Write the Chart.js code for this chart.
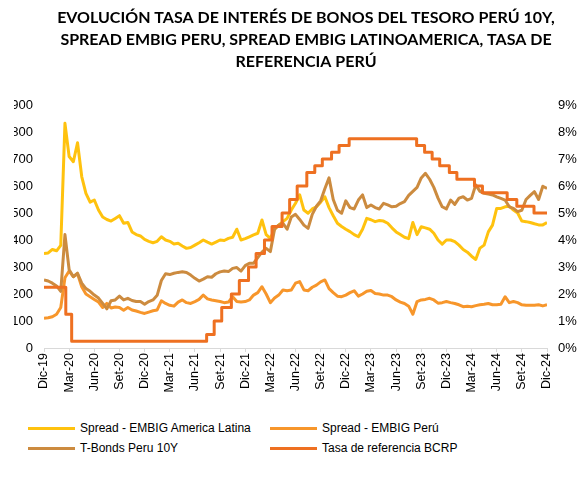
<!DOCTYPE html>
<html>
<head>
<meta charset="utf-8">
<script src="https://cdn.jsdelivr.net/npm/chart.js@4"></script>
<style>
  body { margin: 0; background: #fff; }
  #wrap { position: relative; width: 582px; height: 491px; overflow: hidden; }
  #chart { position: absolute; left: 0; top: 0; }
  #legend { position: absolute; left: 0; top: 419px; width: 582px; font: 12px "Liberation Sans", Arial, sans-serif; color: #000; }
  .item { position: absolute; height: 18px; line-height: 18px; white-space: nowrap; }
  .item span.sw { position: absolute; left: 0; top: 8px; width: 47px; height: 3px; }
  .item span.tx { position: absolute; left: 52px; top: 0; }
</style>
</head>
<body>
<div id="wrap">
  <canvas id="chart" width="612" height="410"></canvas>
  <div id="legend"></div>
</div>
<script>
// ejes
const tickLabels = ['Dic-19', 'Mar-20', 'Jun-20', 'Set-20', 'Dic-20', 'Mar-21', 'Jun-21', 'Set-21', 'Dic-21',
    'Mar-22', 'Jun-22', 'Set-22', 'Dic-22', 'Mar-23', 'Jun-23', 'Set-23', 'Dic-23', 'Mar-24', 'Jun-24', 'Set-24', 'Dic-24'];

// meses desde dic-19, cada quincena
const months = [
    0, 0.5, 1, 1.5, 2, 2.5, 3, 3.5, 4, 4.5, 5, 5.5, 6, 6.5, 7, 7.5, 8, 8.5, 9, 9.5,
    10, 10.5, 11, 11.5, 12, 12.5, 13, 13.5, 14, 14.5, 15, 15.5, 16, 16.5, 17, 17.5, 18, 18.5, 19, 19.5,
    20, 20.5, 21, 21.5, 22, 22.5, 23, 23.5, 24, 24.5, 25, 25.5, 26, 26.5, 27, 27.5, 28, 28.5, 29, 29.5,
    30, 30.5, 31, 31.5, 32, 32.5, 33, 33.5, 34, 34.5, 35, 35.5, 36, 36.5, 37, 37.5, 38, 38.5, 39, 39.5,
    40, 40.5, 41, 41.5, 42, 42.5, 43, 43.5, 44, 44.5, 45, 45.5, 46, 46.5, 47, 47.5, 48, 48.5, 49, 49.5,
    50, 50.5, 51, 51.5, 52, 52.5, 53, 53.5, 54, 54.5, 55, 55.5, 56, 56.5, 57, 57.5, 58, 58.5, 59, 59.5,
    60
];

// Spread - EMBIG America Latina (pb)
const latam = [
    350, 352, 365, 360, 380, 832, 709, 690, 760, 635,
    573, 540, 548, 511, 485, 476, 470, 480, 490, 462,
    465, 430, 420, 415, 402, 395, 390, 395, 412, 400,
    395, 385, 388, 378, 369, 372, 381, 390, 400, 392,
    385, 392, 400, 398, 406, 410, 440, 400, 405, 412,
    419, 425, 474, 420, 406, 440, 455, 468, 480, 511,
    536, 567, 511, 499, 515, 523, 540, 560, 520, 490,
    462, 450, 440, 431, 420, 412, 440, 480, 475, 468,
    472, 470, 462, 445, 430, 420, 410, 405, 465, 420,
    449, 445, 440, 425, 400, 385, 400, 400, 394, 381,
    365, 355, 340, 328, 370, 381, 430, 455, 517, 517,
    523, 525, 511, 500, 470, 468, 465, 460, 456, 456,
    465
];

// Spread - EMBIG Perú (pb)
const peru = [
    110, 112, 116, 125, 150, 260, 285, 264, 275, 227,
    200, 190, 180, 170, 150, 165, 148, 152, 150, 140,
    150, 141, 137, 132, 128, 133, 138, 141, 175, 165,
    158, 155, 170, 178, 168, 165, 172, 180, 196, 182,
    178, 175, 172, 168, 170, 190, 172, 170, 172, 178,
    196, 205, 227, 200, 168, 185, 196, 215, 212, 215,
    240, 246, 215, 212, 225, 233, 245, 252, 220, 205,
    192, 190, 196, 205, 212, 192, 200, 210, 213, 202,
    200, 196, 196, 190, 178, 170, 165, 155, 125, 172,
    178, 180, 184, 178, 166, 168, 172, 168, 165, 160,
    153, 155, 153, 157, 160, 162, 165, 160, 160, 162,
    190, 168, 172, 168, 160, 158, 158, 158, 160, 156,
    160
];

// T-Bonds Peru 10Y (%)
const tbonds = [
    2.52, 2.48, 2.40, 2.30, 2.10, 4.20, 2.90, 2.64, 2.77, 2.40,
    2.20, 2.10, 1.96, 1.85, 1.65, 1.45, 1.75, 1.78, 1.92, 1.78,
    1.84, 1.76, 1.72, 1.72, 1.62, 1.72, 1.78, 1.95, 2.50, 2.75,
    2.72, 2.77, 2.80, 2.82, 2.80, 2.70, 2.58, 2.48, 2.55, 2.64,
    2.62, 2.75, 2.82, 2.85, 2.83, 2.95, 2.98, 2.85, 3.05, 3.14,
    3.14, 3.35, 3.55, 3.69, 3.57, 4.40, 4.55, 4.62, 4.40, 4.85,
    4.95, 4.76, 4.55, 4.43, 4.95, 5.25, 5.45, 5.90, 6.30, 5.50,
    5.10, 4.99, 5.45, 5.20, 5.15, 5.48, 5.67, 5.20, 5.30, 5.20,
    5.15, 5.36, 5.30, 5.23, 5.25, 5.35, 5.42, 5.65, 5.80, 5.95,
    6.30, 6.47, 6.25, 5.95, 5.55, 5.23, 5.15, 5.48, 5.32, 5.55,
    5.60, 5.48, 5.54, 6.04, 5.80, 5.73, 5.70, 5.67, 5.60, 5.54,
    5.48, 5.23, 5.17, 5.05, 5.10, 5.50, 5.65, 5.79, 5.50, 5.99,
    5.91
];

// Tasa de referencia BCRP (%), fechas de cambio
const rateMonths = [0, 2.6, 3.3, 19.4, 20.3, 21.2, 22.35, 23.3, 24.4, 25.3, 26.3, 27.2, 28.4, 29.3, 30.2,
    31.35, 32.3, 33.2, 34.3, 35.2, 36.4, 44.45, 45.4, 46.3, 47.2, 48.35, 49.25, 51.35, 52.3, 55.25, 56.4, 58.45, 60];
const rates = [2.25, 1.25, 0.25, 0.5, 1.0, 1.5, 2.0, 2.5, 3.0, 3.5, 4.0, 4.5, 5.0, 5.5, 6.0,
    6.5, 6.75, 7.0, 7.25, 7.5, 7.75, 7.5, 7.25, 7.0, 6.75, 6.5, 6.25, 6.0, 5.75, 5.5, 5.25, 5.0, 5.0];

const seriesNames = ['Spread - EMBIG America Latina', 'Spread - EMBIG Perú', 'T-Bonds Peru 10Y', 'Tasa de referencia BCRP'];
const colors = ['#FFC20E', '#F7962B', '#CC8B3F', '#EE7021'];

function pts(xs, ys) {
    return xs.map((x, i) => ({ x: x, y: ys[i] }));
}

// tapa el borde izquierdo recortado
const cropLeft = {
    id: 'cropLeft',
    afterDraw(c) {
        const ctx = c.ctx;
        ctx.save();
        ctx.fillStyle = '#fff';
        ctx.fillRect(0, 90, 14, 270);
        ctx.restore();
    }
};

const ctx = document.getElementById('chart').getContext('2d');
const chart = new Chart(ctx, {
    type: 'line',
    data: {
        datasets: [
            { label: seriesNames[0], data: pts(months, latam), yAxisID: 'y', borderColor: colors[0], order: 3 },
            { label: seriesNames[1], data: pts(months, peru), yAxisID: 'y', borderColor: colors[1], order: 2 },
            { label: seriesNames[2], data: pts(months, tbonds), yAxisID: 'y1', borderColor: colors[2], order: 1 },
            { label: seriesNames[3], data: pts(rateMonths, rates), yAxisID: 'y1', borderColor: colors[3], stepped: 'before', order: 0 }
        ]
    },
    options: {
        responsive: false,
        animation: false,
        events: [],
        layout: { padding: 0 },
        elements: {
            point: { radius: 0 },
            line: { borderWidth: 3, tension: 0, fill: false, borderJoinStyle: 'round' }
        },
        plugins: {
            legend: { display: false },
            tooltip: { enabled: false },
            title: {
                display: true,
                text: ['EVOLUCIÓN TASA DE INTERÉS DE BONOS DEL TESORO PERÚ 10Y,',
                       'SPREAD EMBIG PERU, SPREAD EMBIG LATINOAMERICA, TASA DE',
                       'REFERENCIA PERÚ'],
                color: '#000',
                font: { family: 'Lato', size: 16, weight: 'bold', lineHeight: 22 / 16 },
                padding: { top: 7, bottom: 32 }
            }
        },
        scales: {
            x: {
                type: 'linear',
                min: 0,
                max: 60,
                afterFit(s) { s.height = 62; },
                border: { display: true, color: '#d9d9d9', width: 1 },
                grid: { display: true, drawOnChartArea: false, drawTicks: true, tickLength: 4, color: '#d9d9d9' },
                ticks: {
                    stepSize: 3,
                    autoSkip: false,
                    minRotation: 90,
                    maxRotation: 90,
                    padding: 1,
                    color: '#000',
                    font: { family: 'Liberation Sans', size: 12.5 },
                    callback: (v) => tickLabels[Math.round(v / 3)]
                }
            },
            y: {
                position: 'left',
                min: 0,
                max: 900,
                afterFit(s) { s.width = 44; },
                border: { display: false },
                grid: { display: false, drawTicks: false },
                ticks: { stepSize: 100, padding: 11, color: '#000', font: { family: 'Liberation Sans', size: 13 } }
            },
            y1: {
                position: 'right',
                min: 0,
                max: 9,
                afterFit(s) { s.width = 65; },
                border: { display: false },
                grid: { display: false, drawTicks: false },
                ticks: {
                    stepSize: 1, padding: 11, color: '#000', font: { family: 'Liberation Sans', size: 13 },
                    callback: (v) => v + '%'
                }
            }
        }
    },
    plugins: [cropLeft]
});

// leyenda en dos columnas
const legendPos = [[28, 0], [270, 0], [28, 20], [270, 20]];
const legendDiv = document.getElementById('legend');
seriesNames.forEach((name, i) => {
    const item = document.createElement('div');
    item.className = 'item';
    item.style.left = legendPos[i][0] + 'px';
    item.style.top = legendPos[i][1] + 'px';
    item.innerHTML = '<span class="sw" style="background:' + colors[i] + '"></span><span class="tx">' + name + '</span>';
    legendDiv.appendChild(item);
});
</script>
</body>
</html>
